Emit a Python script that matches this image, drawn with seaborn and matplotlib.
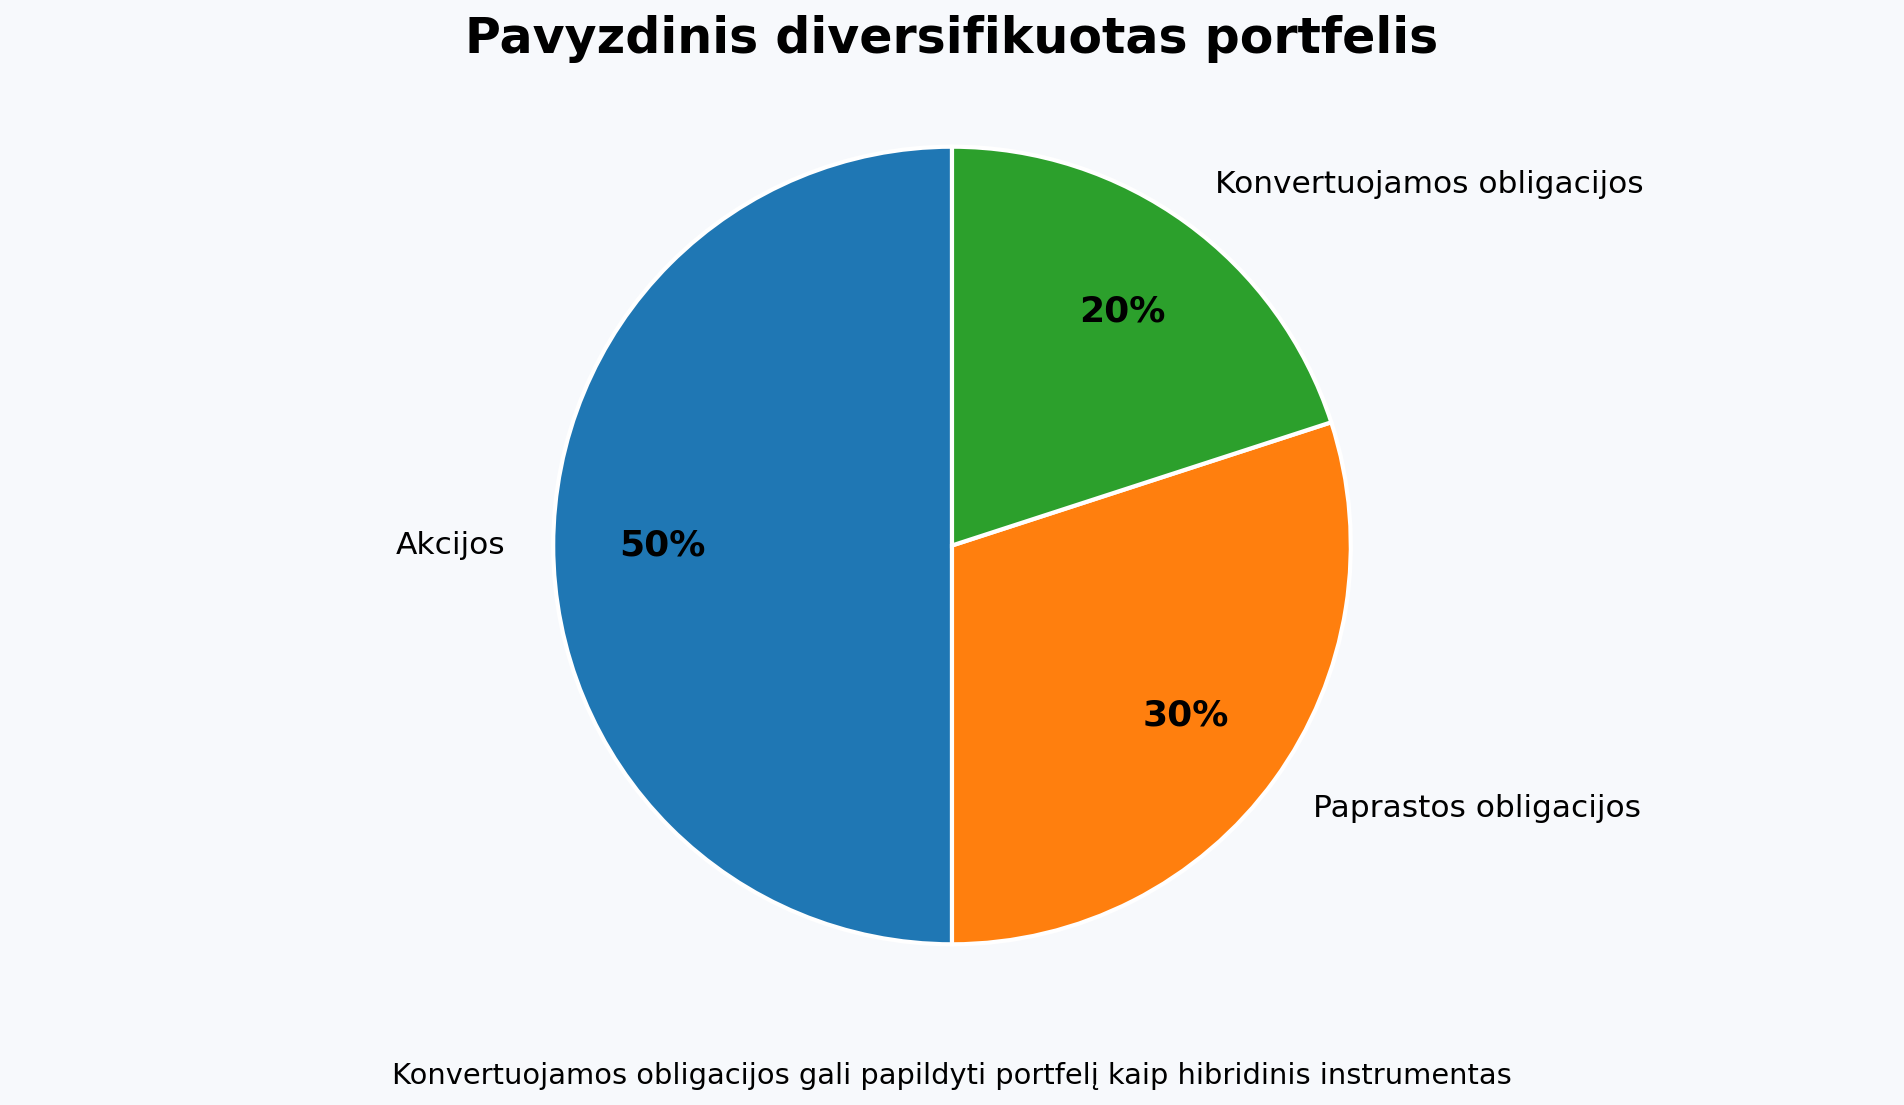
import seaborn as sns
import matplotlib
matplotlib.use("Agg")
import matplotlib.pyplot as plt

# Duomenys
kategorijos = ["Akcijos", "Paprastos obligacijos", "Konvertuojamos obligacijos"]
dalys = [50, 30, 20]

pavadinimas = "Pavyzdinis diversifikuotas portfelis"
pastaba = "Konvertuojamos obligacijos gali papildyti portfelį kaip hibridinis instrumentas"

sns.set_theme(style="white")
plt.rcParams['font.family'] = ['DejaVu Sans']
plt.rcParams['text.color'] = 'black'

fonas = "#f7f9fc"
spalvos = sns.color_palette("tab10", 3)

fig = plt.figure(figsize=(19.04, 11.05), dpi=100, facecolor=fonas)
ax = fig.add_axes([0, 61 / 1105, 1, 997 / 1105])
ax.set_facecolor(fonas)

wedges, texts, autotexts = ax.pie(
    dalys,
    labels=kategorijos,
    colors=spalvos,
    startangle=90,
    autopct='%1.0f%%',
    pctdistance=0.725,
    labeldistance=1.12,
    wedgeprops=dict(edgecolor='white', linewidth=3),
    textprops=dict(fontsize=22.5, color='black'),
)
for t in autotexts:
    t.set_fontsize(26)
    t.set_fontweight('bold')

ax.set_xlim(-1.25, 1.25)
ax.set_ylim(-1.25, 1.25)
ax.set_aspect('equal')

# Pavadinimas ir pastaba
fig.text(0.5, 1 - 53 / 1105, pavadinimas, ha='center', va='baseline',
         fontsize=35.3, fontweight='bold', color='black')
fig.text(0.5, 1 - 1084 / 1105, pastaba, ha='center', va='baseline',
         fontsize=20.8, color='black')

fig.savefig("out.png", dpi=100, facecolor=fonas)
